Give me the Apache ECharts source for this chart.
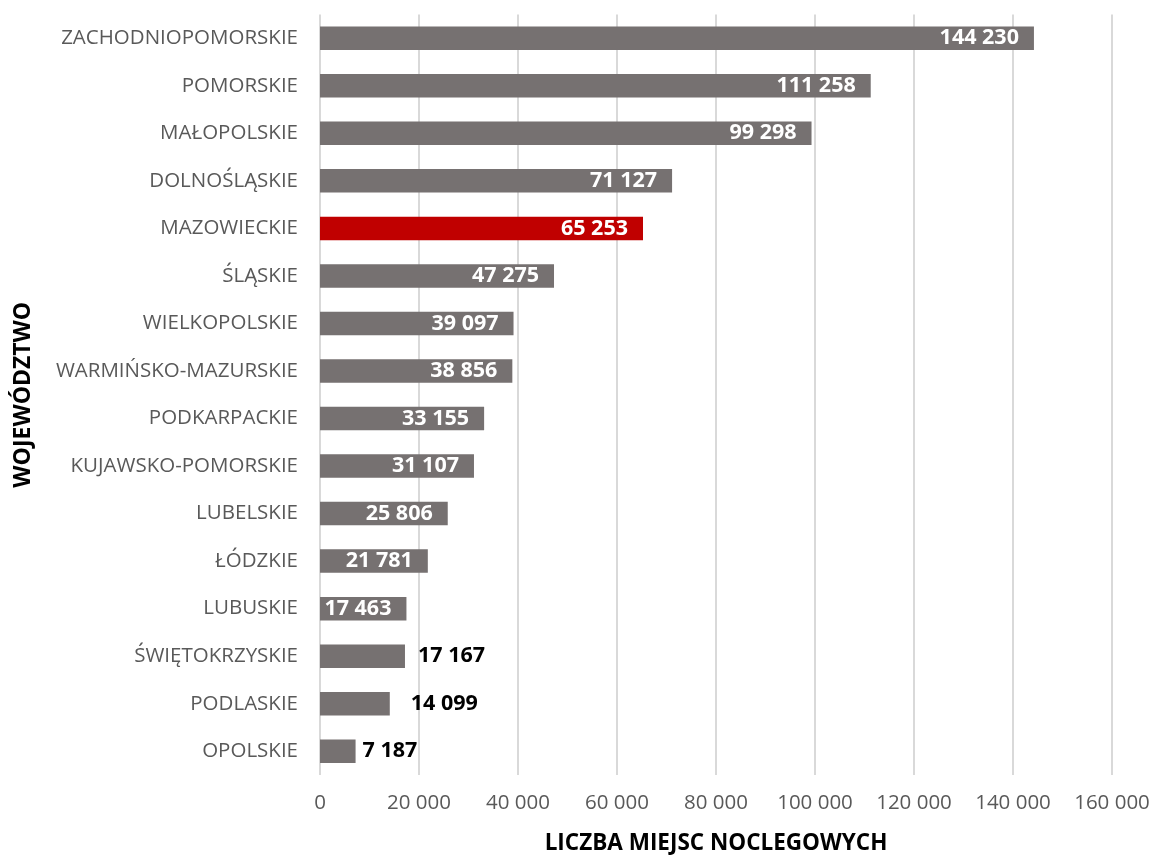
<!DOCTYPE html>
<html>
<head>
<meta charset="utf-8">
<script src="https://cdn.jsdelivr.net/npm/echarts@6/dist/echarts.min.js"></script>
<style>
  html, body { margin: 0; padding: 0; background: #fff; }
  #chart { width: 1154px; height: 856px; }
</style>
</head>
<body>
<div id="chart"></div>
<script>
const categories = [
  "ZACHODNIOPOMORSKIE", "POMORSKIE", "MAŁOPOLSKIE", "DOLNOŚLĄSKIE", "MAZOWIECKIE",
  "ŚLĄSKIE", "WIELKOPOLSKIE", "WARMIŃSKO-MAZURSKIE", "PODKARPACKIE", "KUJAWSKO-POMORSKIE",
  "LUBELSKIE", "ŁÓDZKIE", "LUBUSKIE", "ŚWIĘTOKRZYSKIE", "PODLASKIE", "OPOLSKIE"
];
const values = [144230, 111258, 99298, 71127, 65253, 47275, 39097, 38856, 33155, 31107, 25806, 21781, 17463, 17167, 14099, 7187];
const highlighted = "MAZOWIECKIE";
// labels drawn outside the bar, with their gap from the bar end
const outsideLabels = { "ŚWIĘTOKRZYSKIE": 13, "PODLASKIE": 21, "OPOLSKIE": 7 };

const fmt = v => String(v).replace(/\B(?=(\d{3})+(?!\d))/g, " ");
const font = "'Open Sans', 'DejaVu Sans', sans-serif";

const chart = echarts.init(document.getElementById("chart"));

const seriesData = values.map((v, i) => {
  const name = categories[i];
  const item = {
    value: v,
    itemStyle: { color: name === highlighted ? "#c00000" : "#767171" }
  };
  if (outsideLabels[name] !== undefined) {
    item.label = { position: "right", distance: outsideLabels[name], color: "#000" };
  }
  return item;
});

const option = {
  animation: false,
  grid: { left: 320, right: 42, top: 14.5, bottom: 81, outerBoundsMode: "none" },
  xAxis: {
    type: "value",
    min: 0,
    max: 160000,
    interval: 20000,
    axisLine: { show: false },
    axisTick: { show: false },
    splitLine: { lineStyle: { color: "#d9d9d9", width: 2 } },
    axisLabel: {
      formatter: v => fmt(v),
      color: "#595959",
      fontSize: 20.5,
      fontFamily: font,
      margin: 18
    },
    name: "LICZBA MIEJSC NOCLEGOWYCH",
    nameLocation: "middle",
    nameGap: 57,
    nameTextStyle: { color: "#000", fontSize: 22.5, fontWeight: "bold", fontFamily: font }
  },
  yAxis: {
    type: "category",
    data: categories,
    inverse: true,
    axisLine: { show: false },
    axisTick: { show: false },
    axisLabel: { color: "#595959", fontSize: 20.5, fontFamily: font, margin: 22, padding: [4, 0, 0, 0] },
    name: "WOJEWÓDZTWO",
    nameLocation: "middle",
    nameGap: 285,
    nameRotate: 90,
    nameTextStyle: { color: "#000", fontSize: 23, fontWeight: "bold", fontFamily: font }
  },
  series: [{
    type: "bar",
    data: seriesData,
    barWidth: 23.5,
    label: {
      show: true,
      position: "insideRight",
      distance: 15,
      color: "#fff",
      fontSize: 21.5,
      fontWeight: "bold",
      fontFamily: font,
      formatter: p => fmt(p.value)
    }
  }]
};

chart.setOption(option);
</script>
</body>
</html>
